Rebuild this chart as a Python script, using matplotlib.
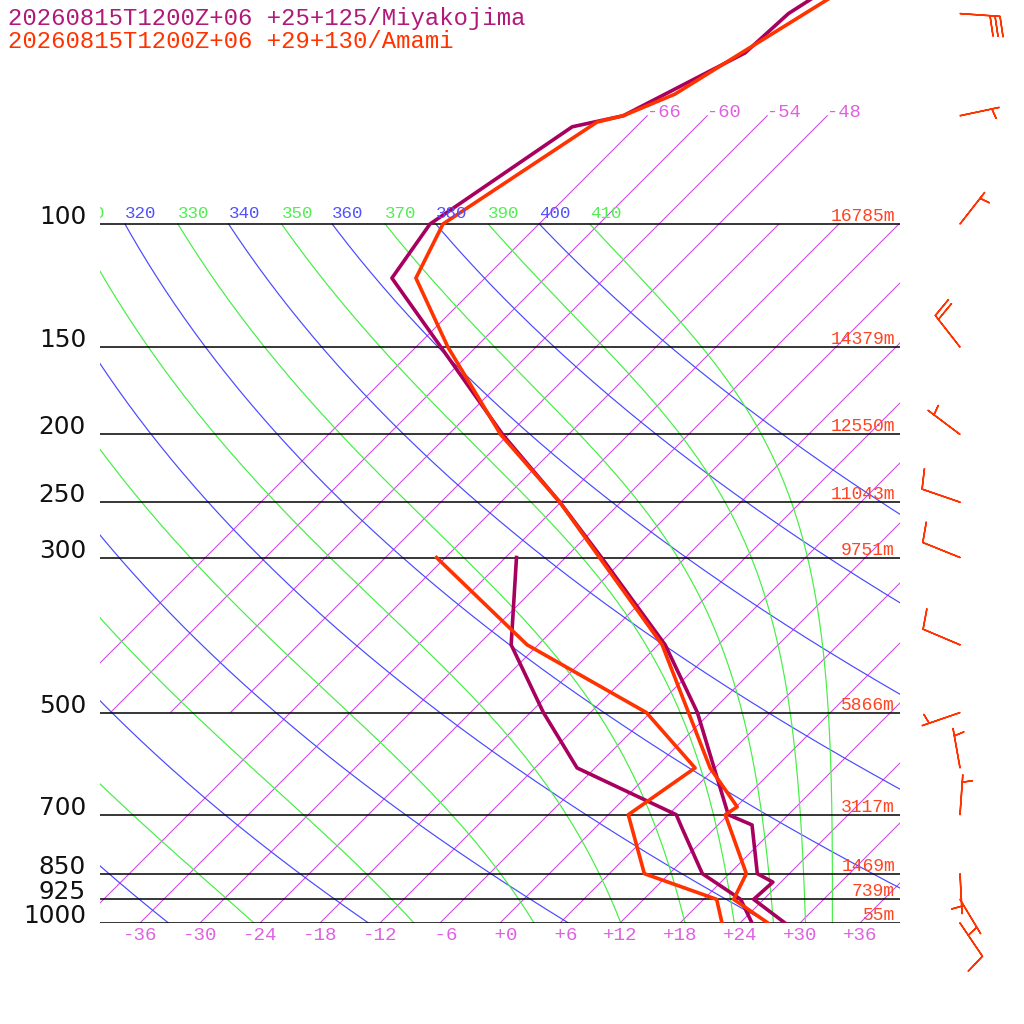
import numpy as np
import matplotlib
matplotlib.use("Agg")
import matplotlib.pyplot as plt

# soundings (hPa, degC)
miya_p = [45, 50, 56.9, 70, 72.6, 100, 119.5, 150, 200, 250, 300, 400, 500,
          700, 724, 850, 874, 925, 1000]
miya_t = [-60.3, -62.1, -62.5, -68.4, -72.4, -76.9, -75.3, -63.5, -48.6, -36.1,
          -26.4, -11.3, -1.3, 12.0, 15.4, 20.8, 23.2, 23.0, 28.5]
miya_td_p = [300, 400, 500, 600, 700, 728, 850, 925, 1000]
miya_td = [-34.9, -26.7, -16.7, -7.8, 6.8, 8.5, 15.3, 21.7, 25.2]

amami_p = [45, 65.2, 70, 71.5, 100, 119.5, 150, 200, 250, 300, 400, 600, 682,
           700, 850, 925, 1000]
amami_t = [-58.5, -65.4, -68.4, -70.4, -75.6, -72.9, -62.8, -48.8, -36.1, -26.6,
           -11.6, 5.5, 12.1, 11.7, 19.7, 21.0, 26.8]
amami_td_p = [300, 400, 500, 600, 700, 850, 925, 1000]
amami_td = [-42.9, -25.1, -6.4, 4.0, 2.0, 9.5, 19.3, 22.2]

# winds (Amami), direction in degrees, speed in knots
wind_p = [50, 70, 100, 150, 200, 250, 300, 400, 500, 600, 700, 850, 925, 1000]
wind_dir = [94, 78, 38, 322, 307, 289, 292, 293, 251, 350, 4, 177, 149, 146]
wind_spd = [30, 5, 5, 20, 5, 10, 10, 10, 5, 5, 5, 5, 5, 10]

levels = [100, 150, 200, 250, 300, 500, 700, 850, 925, 1000]
heights = ["16785m", "14379m", "12550m", "11043m", "9751m", "5866m",
           "3117m", "1469m", "739m", "55m"]

titles = ["20260815T1200Z+06 +25+125/Miyakojima",
          "20260815T1200Z+06 +29+130/Amami"]

MIYA = "#a8005f"
AMAMI = "#ff3300"
ISO = "#cc44ee"
ISO_TXT = "#e060e0"
DRY = "#4848ff"
MOIST = "#44ee44"
MONO = "Liberation Mono"

K = 303.57 / 10.0          # skew, degC per ln(1000/p)
P_TOP = 1000 * np.exp(-923 / 303.57)


def skew(t, p):
    return np.asarray(t) + K * np.log(1000.0 / np.asarray(p))


def theta_e_sat(tk, p):
    tc = tk - 273.15
    es = 6.112 * np.exp(17.67 * tc / (tc + 243.5))
    es = np.minimum(es, 0.5 * p)
    r = 622.0 * es / (p - es)
    return tk * (1000.0 / p) ** (0.2854 * (1 - 0.28e-3 * r)) * \
        np.exp((3.376 / tk - 0.00254) * r * (1 + 0.81e-3 * r))


def moist_t(the, p):
    lo = np.full_like(p, 150.0)
    hi = np.full_like(p, 330.0)
    for _ in range(60):
        mid = 0.5 * (lo + hi)
        big = theta_e_sat(mid, p) > the
        hi = np.where(big, mid, hi)
        lo = np.where(big, lo, mid)
    return 0.5 * (lo + hi) - 273.15


fig = plt.figure(figsize=(10.24, 10.24), dpi=100)
ax = fig.add_axes([100 / 1024, 101 / 1024, 800 / 1024, 923 / 1024])
ax.set_yscale("log")
ax.set_xlim(-40, 40)
ax.set_ylim(1000, P_TOP)
ax.axis("off")

# isotherms
for t in range(-42, 37, 6):
    pp = np.array([1000, 100])
    ax.plot(skew([t, t], pp), pp, color=ISO, lw=0.75)
for t in range(-66, -47, 6):
    pp = np.array([500, 70])
    ax.plot(skew([t, t], pp), pp, color=ISO, lw=0.75)
    ax.text(skew(t, 70), 70.3, "%d" % t, color=ISO_TXT, family=MONO,
            fontsize=13.5, ha="left", va="baseline")

# dry adiabats and moist adiabats
pg = np.logspace(3, 2, 200)
for th in range(240, 401, 20):
    tt = th * (pg / 1000.0) ** 0.2857 - 273.15
    ax.plot(skew(tt, pg), pg, color=DRY, lw=0.85)
    if th >= 310:
        ax.text(skew(tt[-1], 100), 98.1, str(th), color="#5050ff",
                family=MONO, fontsize=12.6, ha="left", va="baseline",
                clip_on=True)
for th in range(250, 411, 20):
    tt = moist_t(th, pg)
    ax.plot(skew(tt, pg), pg, color=MOIST, lw=0.85)
    if th >= 310:
        ax.text(skew(tt[-1], 100), 98.1, str(th), color="#50ee50",
                family=MONO, fontsize=12.6, ha="left", va="baseline",
                clip_on=True)

# pressure levels
for p, h in zip(levels, heights):
    ax.plot([-40, 40], [p, p], color="black", lw=1.1)
    ax.text(-41.4, p, str(p), ha="right", va="baseline", fontsize=17.8,
            family="DejaVu Sans", color="#111111", clip_on=False)
    ax.text(39.5, p * np.exp(-3 / 303.57), h, ha="right", va="baseline",
            fontsize=13, family=MONO, color="#ff4422")

# temperature labels along the bottom
for t in range(-36, 37, 6):
    ax.text(t, 1000 * np.exp(13 / 303.57), "%+3d" % t, ha="center",
            va="center", fontsize=13.8, family=MONO, color=ISO_TXT,
            clip_on=False)

# soundings
ax.plot(skew(miya_td, miya_td_p), miya_td_p, color=MIYA, lw=2.6)
ax.plot(skew(amami_td, amami_td_p), amami_td_p, color=AMAMI, lw=2.6)
ax.plot(skew(miya_t, miya_p), miya_p, color=MIYA, lw=2.6)
ax.plot(skew(amami_t, amami_p), amami_p, color=AMAMI, lw=2.6)

# wind barbs (matplotlib staff length is length**2/2 points)
d = np.radians(wind_dir)
u = -np.array(wind_spd) * np.sin(d)
v = -np.array(wind_spd) * np.cos(d)
ax.barbs(np.full(len(wind_p), 46.0), wind_p, u, v, length=7.6,
         color=AMAMI, linewidth=1.1, clip_on=False,
         sizes=dict(spacing=0.125, height=0.5, width=0.22))

fig.text(8 / 1024, 1 - 25 / 1024, titles[0], color="#b0187a", family=MONO,
         fontsize=17.2, va="baseline")
fig.text(8 / 1024, 1 - 48 / 1024, titles[1], color=AMAMI, family=MONO,
         fontsize=17.2, va="baseline")

fig.savefig("out.png", dpi=100)
